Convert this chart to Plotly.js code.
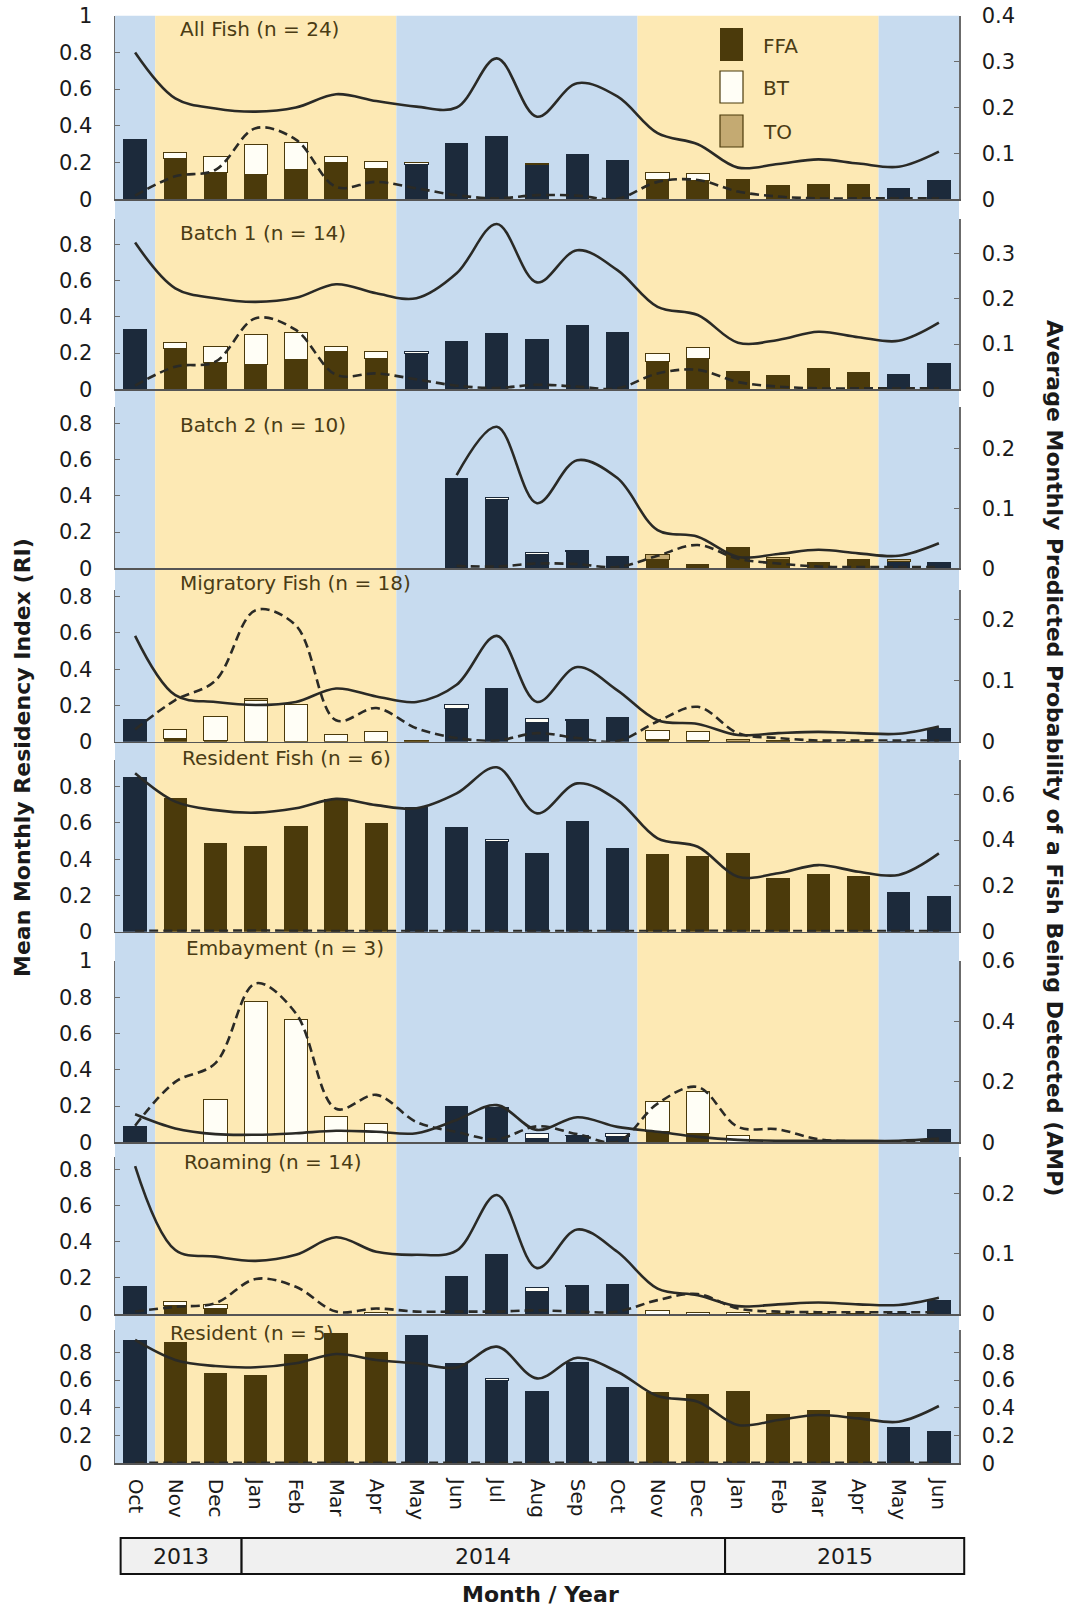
<!DOCTYPE html>
<html>
<head>
<meta charset="utf-8">
<script src="https://cdn.plot.ly/plotly-3.0.1.min.js"></script>
<style>html,body{margin:0;padding:0;background:#fff;}#chart{width:1073px;height:1606px;}</style>
</head>
<body>
<div id="chart"></div>
<script>
// ---------- DATA ----------
const months = ['Oct','Nov','Dec','Jan','Feb','Mar','Apr','May','Jun','Jul','Aug','Sep','Oct','Nov','Dec','Jan','Feb','Mar','Apr','May','Jun'];
const years = ['2013','2014','2015'];
const winter = [0,1,1,1,1,1,1,0,0,0,0,0,0,1,1,1,1,1,1,0,0];
const N = null;

// All Fish (n = 24)
const allFFA    = [0.328,0.221,0.145,0.134,0.163,0.203,0.169,0.192,0.305,0.345,0.192,0.245,0.216,0.110,0.105,0.110,0.076,0.082,0.082,0.063,0.105];
const allBT     = [0,0.035,0.089,0.163,0.147,0.031,0.036,0.006,0,0,0,0,0,0.037,0.037,0,0,0,0,0,0];
const allTO     = [0,0,0,0,0,0,0,0.005,0,0,0.004,0,0,0,0,0,0,0,0,0,0];
const allSolid  = [0.320,0.220,0.198,0.191,0.200,0.229,0.214,0.202,0.200,0.307,0.180,0.253,0.224,0.144,0.120,0.069,0.077,0.087,0.078,0.071,0.104];
const allDashed = [0.008,0.050,0.064,0.155,0.130,0.027,0.038,0.024,0.009,0.002,0.009,0.008,0.001,0.038,0.042,0.017,0.006,0.002,0.002,0.002,0.002];

// Batch 1 (n = 14)
const b1FFA    = [0.331,0.224,0.147,0.136,0.166,0.206,0.171,0.195,0.266,0.312,0.277,0.355,0.318,0.152,0.169,0.103,0.081,0.116,0.097,0.083,0.147];
const b1BT     = [0,0.035,0.088,0.164,0.146,0.033,0.035,0.011,0,0,0,0,0,0.043,0.061,0,0,0,0,0,0];
const b1TO     = [0,0,0,0,0,0,0,0,0,0,0,0,0,0,0,0,0,0,0,0,0];
const b1Solid  = [0.324,0.223,0.201,0.193,0.202,0.232,0.212,0.201,0.256,0.365,0.236,0.307,0.263,0.182,0.164,0.103,0.109,0.127,0.115,0.107,0.147];
const b1Dashed = [0.008,0.050,0.061,0.157,0.131,0.032,0.035,0.022,0.008,0.003,0.010,0.006,0.002,0.035,0.043,0.016,0.006,0.002,0.002,0.002,0.002];

// Batch 2 (n = 10)
const b2FFA    = [N,N,N,N,N,N,N,N,0.499,0.382,0.075,0.092,0.070,0.046,0.022,0.120,0.046,0.037,0.050,0.037,0.037];
const b2BT     = [N,N,N,N,N,N,N,N,0,0.008,0.012,0.009,0,0,0,0,0,0,0,0,0];
const b2TO     = [N,N,N,N,N,N,N,N,0,0,0,0,0,0.028,0,0,0.014,0,0,0.013,0];
const b2Solid  = [N,N,N,N,N,N,N,N,0.156,0.237,0.109,0.181,0.151,0.064,0.053,0.019,0.024,0.031,0.025,0.021,0.042];
const b2Dashed = [N,N,N,N,N,N,N,N,0.004,0.003,0.008,0.007,0.002,0.021,0.039,0.016,0.008,0.003,0.002,0.002,0.002];

// Migratory Fish (n = 18)
const migFFA    = [0.124,0.019,0.008,0,0,0,0,0,0.184,0.298,0.107,0.118,0.138,0.010,0.008,0,0,0,0,0.006,0.077];
const migBT     = [0,0.051,0.130,0.230,0.208,0.042,0.057,0,0.022,0,0.020,0.006,0,0.051,0.046,0,0,0,0,0,0];
const migTO     = [0,0,0,0.008,0,0,0,0.008,0,0,0,0,0,0,0,0.013,0.005,0.003,0.003,0,0];
const migSolid  = [0.173,0.076,0.065,0.060,0.065,0.087,0.074,0.065,0.093,0.173,0.065,0.122,0.084,0.035,0.029,0.011,0.014,0.016,0.014,0.013,0.025];
const migDashed = [0.020,0.068,0.100,0.215,0.190,0.035,0.055,0.022,0.006,0.002,0.014,0.006,0.001,0.033,0.057,0.014,0.006,0.002,0.002,0.002,0.002];

// Resident Fish (n = 6)
const resFFA    = [0.852,0.739,0.491,0.473,0.585,0.732,0.598,0.690,0.579,0.496,0.433,0.611,0.462,0.427,0.419,0.433,0.296,0.318,0.307,0.219,0.197];
const resBT     = [0,0,0,0,0,0,0,0,0,0.010,0,0,0,0,0,0,0,0,0,0,0];
const resTO     = [0,0,0,0,0,0,0,0,0,0,0,0,0,0,0,0,0,0,0,0,0];
const resSolid  = [0.692,0.568,0.531,0.520,0.539,0.580,0.553,0.539,0.604,0.718,0.517,0.648,0.575,0.408,0.371,0.240,0.255,0.291,0.262,0.248,0.342];
const resDashed = [0.003,0.004,0.004,0.005,0.004,0.003,0.003,0.003,0.003,0.003,0.003,0.003,0.003,0.003,0.004,0.003,0.003,0.003,0.003,0.003,0.003];

// Embayment (n = 3)
const embFFA    = [0.090,0,0,0,0,0,0,0,0.200,0.187,0.022,0.035,0.030,0.058,0.046,0,0,0,0,0,0.073];
const embBT     = [0,0,0.237,0.775,0.679,0.141,0.105,0,0,0.005,0.028,0.005,0.016,0.166,0.233,0.035,0,0,0,0,0];
const embTO     = [0,0,0,0,0,0,0,0,0,0,0,0,0,0,0,0,0,0,0,0,0];
const embSolid  = [0.093,0.046,0.027,0.025,0.030,0.038,0.035,0.030,0.074,0.123,0.041,0.083,0.051,0.035,0.018,0.008,0.005,0.005,0.005,0.005,0.012];
const embDashed = [0.055,0.200,0.262,0.526,0.427,0.111,0.157,0.067,0.034,0.010,0.053,0.027,0.002,0.128,0.183,0.051,0.043,0.010,0.003,0.003,0.003];

// Roaming (n = 14)
const roaFFA    = [0.155,0.046,0.032,0,0,0,0,0,0.212,0.335,0.123,0.151,0.166,0,0,0,0,0,0,0.005,0.077];
const roaBT     = [0,0.024,0.022,0,0,0,0.006,0,0,0,0.024,0.009,0,0.022,0.010,0.006,0,0,0,0,0];
const roaTO     = [0,0,0,0,0,0,0,0,0,0,0,0,0,0,0,0.004,0.005,0.003,0.005,0,0];
const roaSolid  = [0.245,0.106,0.095,0.088,0.098,0.127,0.103,0.098,0.105,0.197,0.076,0.140,0.103,0.042,0.031,0.013,0.016,0.019,0.016,0.015,0.027];
const roaDashed = [0.004,0.012,0.018,0.058,0.045,0.004,0.009,0.004,0.004,0.004,0.006,0.004,0.004,0.023,0.033,0.009,0.004,0.003,0.003,0.003,0.003];

// Resident (n = 5)
const rs5FFA    = [0.889,0.877,0.649,0.636,0.785,0.941,0.802,0.925,0.725,0.600,0.523,0.732,0.552,0.516,0.497,0.523,0.353,0.384,0.367,0.259,0.235];
const rs5BT     = [0,0,0,0,0,0,0,0,0,0.012,0,0,0,0,0,0,0,0,0,0,0];
const rs5TO     = [0,0,0,0,0,0,0,0,0,0,0,0,0,0,0,0,0,0,0,0,0];
const rs5Solid  = [0.889,0.745,0.701,0.692,0.721,0.788,0.745,0.721,0.690,0.841,0.612,0.761,0.660,0.485,0.444,0.276,0.312,0.348,0.324,0.300,0.413];
const rs5Dashed = [0.004,0.004,0.004,0.004,0.004,0.004,0.004,0.004,0.004,0.004,0.004,0.004,0.004,0.004,0.004,0.004,0.004,0.004,0.004,0.004,0.004];

const panelNames = ['All Fish (n = 24)','Batch 1 (n = 14)','Batch 2 (n = 10)','Migratory Fish (n = 18)','Resident Fish (n = 6)','Embayment (n = 3)','Roaming (n = 14)','Resident (n = 5)'];
const legendNames = ['FFA','BT','TO'];

// ---------- LAYOUT GEOMETRY (pixels) ----------
const W = 1073, H = 1606;
const xPx = [115, 959];
const panelPx = [[15.7,199.3],[219,389.3],[407,568.3],[590,741.7],[760,931.7],[961,1142.3],[1157,1314],[1330,1463.3]];
const leftMax  = [1.0,0.94,0.892,0.837,0.947,1.0,0.87,0.961];
const rightMax = [0.4,0.376,0.27,0.248,0.75,0.6,0.26,0.961];
const rightDt  = [0.1,0.1,0.1,0.1,0.2,0.2,0.1,0.2];
const labelPx  = [[178,29],[178,233],[178,425],[178,583],[180,758],[184,948],[182,1162],[168,1333]];

const NAVY = '#1c2a3b', BROWN = '#4b3a0b', BTFILL = '#fffef6', TOFILL = '#c4aa72';
const BLUE_BG = '#c7dbef', YEL_BG = '#fde9b4';
const LINEC = '#2a2a26', TXT = '#1a1a1a', LABC = '#4a3c14';
const FONT = 'DejaVu Sans, Liberation Sans, Arial, sans-serif';

const panels = [
  [allFFA,allBT,allTO,allSolid,allDashed],
  [b1FFA,b1BT,b1TO,b1Solid,b1Dashed],
  [b2FFA,b2BT,b2TO,b2Solid,b2Dashed],
  [migFFA,migBT,migTO,migSolid,migDashed],
  [resFFA,resBT,resTO,resSolid,resDashed],
  [embFFA,embBT,embTO,embSolid,embDashed],
  [roaFFA,roaBT,roaTO,roaSolid,roaDashed],
  [rs5FFA,rs5BT,rs5TO,rs5Solid,rs5Dashed]
];

const idx = months.map((m,i)=>i);
const seasonCol = winter.map(w => w ? BROWN : NAVY);
const nz = a => a.map(v => (v === null || v <= 0) ? null : v);
const px2x = p => p / W;
const px2y = p => 1 - p / H;
const cat2px = c => xPx[0] + (c + 0.5) * (xPx[1] - xPx[0]) / months.length;

const traces = [];
const layout = {
  width: W, height: H, autosize: false,
  margin: {l:0, r:0, t:0, b:0},
  paper_bgcolor: '#ffffff', plot_bgcolor: 'rgba(0,0,0,0)',
  barmode: 'stack', bargap: 0.42, showlegend: false,
  font: {family: FONT, size: 20, color: TXT},
  shapes: [], annotations: []
};

panels.forEach((pd, p) => {
  const xa = p === 0 ? 'x' : 'x' + (p+1);
  const lyN = 2*p + 1, ryN = 2*p + 2;
  const ly = lyN === 1 ? 'y' : 'y' + lyN;
  const ry = 'y' + ryN;
  const [ffa, bt, to, solid, dashed] = pd;

  traces.push({type:'bar', x: idx, y: nz(ffa), xaxis: xa, yaxis: ly, width: 0.58,
    marker: {color: seasonCol, line: {width: 0}}, hoverinfo: 'skip'});
  traces.push({type:'bar', x: idx, y: nz(bt), xaxis: xa, yaxis: ly, width: 0.58,
    marker: {color: BTFILL, line: {color: seasonCol, width: 1}}, hoverinfo: 'skip'});
  traces.push({type:'bar', x: idx, y: nz(to), xaxis: xa, yaxis: ly, width: 0.58,
    marker: {color: TOFILL, line: {color: BROWN, width: 1}}, hoverinfo: 'skip'});
  traces.push({type:'scatter', mode:'lines', x: idx, y: solid, xaxis: xa, yaxis: ry,
    line: {color: LINEC, width: 2.6, shape: 'spline', smoothing: 1.0}, hoverinfo: 'skip'});
  traces.push({type:'scatter', mode:'lines', x: idx, y: dashed, xaxis: xa, yaxis: ry,
    line: {color: LINEC, width: 2.6, shape: 'spline', smoothing: 1.0, dash: '9px,5px'}, hoverinfo: 'skip'});

  const dom = [px2y(panelPx[p][1]), px2y(panelPx[p][0])];
  const tf = {size: 21, color: TXT, family: FONT};
  layout[p === 0 ? 'xaxis' : 'xaxis' + (p+1)] = {
    domain: [px2x(xPx[0]), px2x(xPx[1])], range: [-0.5, 20.5], anchor: ly,
    showline: true, linecolor: '#555555', linewidth: 1.5, ticks: '', showgrid: false, zeroline: false,
    tickmode: 'array', tickvals: idx, ticktext: months, showticklabels: p === 7,
    tickangle: 90, tickfont: {size: 20, color: TXT, family: FONT}, ticklabelstandoff: 10, automargin: false
  };
  layout[lyN === 1 ? 'yaxis' : 'yaxis' + lyN] = {
    domain: dom, range: [0, leftMax[p]], anchor: xa,
    showline: true, linecolor: '#6b6b6b', linewidth: 1.5, ticks: 'inside', ticklen: 5, tickcolor: '#6b6b6b',
    tick0: 0, dtick: 0.2, showgrid: false, zeroline: false,
    tickfont: tf, ticklabelstandoff: 17, automargin: false
  };
  layout['yaxis' + ryN] = {
    domain: dom, range: [0, rightMax[p]], anchor: xa, overlaying: ly, side: 'right',
    showline: true, linecolor: '#6b6b6b', linewidth: 1.5, ticks: 'inside', ticklen: 5, tickcolor: '#6b6b6b',
    tick0: 0, dtick: rightDt[p], showgrid: false, zeroline: false,
    tickfont: tf, ticklabelstandoff: 17, automargin: false
  };

  layout.annotations.push({xref:'paper', yref:'paper', x: px2x(labelPx[p][0]), y: px2y(labelPx[p][1]),
    xanchor:'left', yanchor:'middle', showarrow:false, text: panelNames[p],
    font: {size: 20, color: LABC, family: FONT}});
});

// seasonal background bands
const bands = [[-0.5,0.5,BLUE_BG],[0.5,6.5,YEL_BG],[6.5,12.5,BLUE_BG],[12.5,18.5,YEL_BG],[18.5,20.5,BLUE_BG]];
bands.forEach(b => layout.shapes.push({type:'rect', layer:'below', xref:'x', yref:'paper',
  x0: b[0], x1: b[1], y0: px2y(1464.5), y1: px2y(15.7), fillcolor: b[2], line: {width: 0}}));

// legend (panel 1)
const legFill = [BROWN, BTFILL, TOFILL];
const legY = [[28,61],[71,103],[115,147]];
legendNames.forEach((n, i) => {
  layout.shapes.push({type:'rect', xref:'paper', yref:'paper', x0: px2x(720), x1: px2x(743),
    y0: px2y(legY[i][1]), y1: px2y(legY[i][0]), fillcolor: legFill[i],
    line: {color: BROWN, width: i === 0 ? 0 : 1.2}});
  layout.annotations.push({xref:'paper', yref:'paper', x: px2x(761), y: px2y((legY[i][0]+legY[i][1])/2 + 1),
    xanchor:'left', yanchor:'middle', showarrow:false, text: n, font: {size: 20, color: LABC, family: FONT}});
});

// year box (paper coordinates so it is not clipped)
const yearCells = [[-0.36, 2.65],[2.65, 14.68],[14.68, 20.63]];
yearCells.forEach((c, i) => {
  layout.shapes.push({type:'rect', xref:'paper', yref:'paper', x0: px2x(cat2px(c[0])), x1: px2x(cat2px(c[1])),
    y0: px2y(1574), y1: px2y(1538), fillcolor: '#f0f0f0', line: {color: '#111111', width: 2}});
  layout.annotations.push({xref:'paper', yref:'paper', x: px2x(cat2px((c[0]+c[1])/2)), y: px2y(1556.5),
    xanchor:'center', yanchor:'middle', showarrow:false, text: years[i], font: {size: 22, color: TXT, family: FONT}});
});

// axis titles
layout.annotations.push({xref:'paper', yref:'paper', x: px2x(22), y: px2y(758), textangle: -90,
  xanchor:'center', yanchor:'middle', showarrow:false, text:'<b>Mean Monthly Residency Index (RI)</b>',
  font:{size: 22, color: TXT, family: FONT}});
layout.annotations.push({xref:'paper', yref:'paper', x: px2x(1055), y: px2y(758), textangle: 90,
  xanchor:'center', yanchor:'middle', showarrow:false,
  text:'<b>Average Monthly Predicted Probability of a Fish Being Detected (AMP)</b>',
  font:{size: 22, color: TXT, family: FONT}});
layout.annotations.push({xref:'paper', yref:'paper', x: px2x(540), y: px2y(1594),
  xanchor:'center', yanchor:'middle', showarrow:false, text:'<b>Month / Year</b>',
  font:{size: 22, color: TXT, family: FONT}});

Plotly.newPlot('chart', traces, layout, {staticPlot: true, displayModeBar: false});
</script>
</body>
</html>
